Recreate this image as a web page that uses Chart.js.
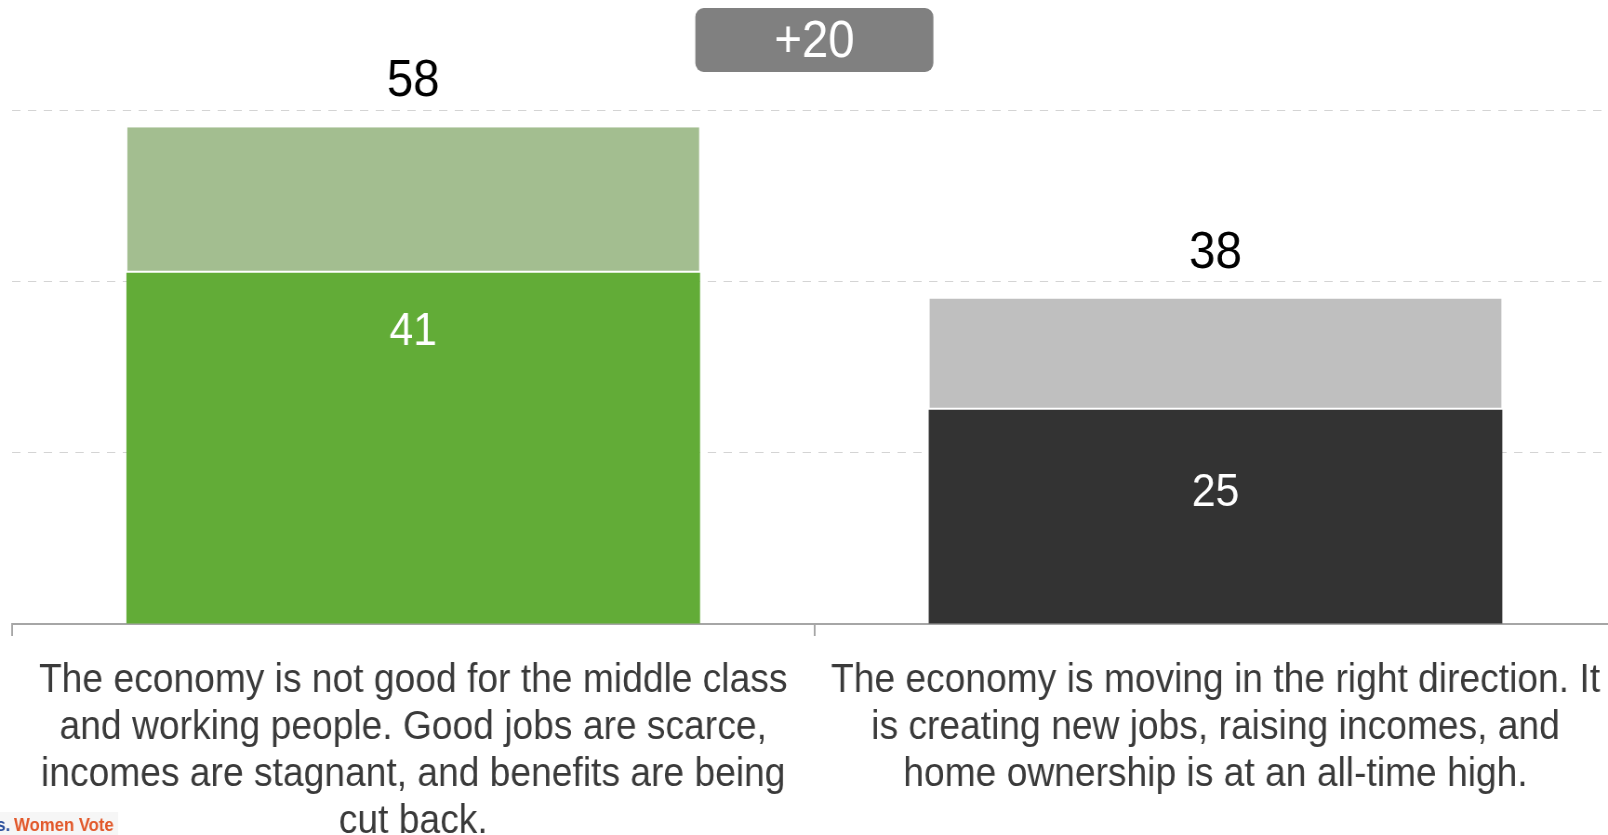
<!DOCTYPE html>
<html>
<head>
<meta charset="utf-8">
<script src="https://cdn.jsdelivr.net/npm/chart.js@4/dist/chart.umd.min.js"></script>
<style>
  html, body { margin: 0; padding: 0; background: #fff; overflow: hidden; }
  /* narrow type, like the deck this came from */
  #wrap { width: 1742px; height: 835px; transform: scaleX(0.93); transform-origin: 0 0; }
</style>
</head>
<body>
<div id="wrap"><canvas id="economy_chart" width="1742" height="835"></canvas></div>
<script>
const categories = [
    ['The economy is not good for the middle class', 'and working people. Good jobs are scarce,', 'incomes are stagnant, and benefits are being', 'cut back.'],
    ['The economy is moving in the right direction. It', 'is creating new jobs, raising incomes, and', 'home ownership is at an all-time high.']
];
const strongValues = [41, 25];
const otherValues = [17, 13];
const yTicks = { min: 0, max: 60, step: 20 };

const FONT = '"Liberation Sans", Arial, Helvetica, sans-serif';

// totals above each bar, strong share inside, and the gap badge on top
const labelPlugin = {
    id: 'labels',
    afterDatasetsDraw(chart, args, opts) {
        const ctx = chart.ctx;
        const y = chart.scales.y;
        const meta = chart.getDatasetMeta(0);
        const totals = strongValues.map((v, i) => v + otherValues[i]);

        ctx.save();
        ctx.textAlign = 'center';
        ctx.textBaseline = 'middle';
        meta.data.forEach((bar, i) => {
            ctx.font = '51px ' + FONT;
            ctx.fillStyle = '#000';
            ctx.fillText(String(totals[i]), bar.x, y.getPixelForValue(totals[i]) - 45);
            ctx.font = '46px ' + FONT;
            ctx.fillStyle = '#fff';
            ctx.fillText(String(strongValues[i]), bar.x, y.getPixelForValue(strongValues[i]) + opts.innerOffsets[i]);
        });

        // gap badge
        const cx = (meta.data[0].x + meta.data[1].x) / 2;
        const w = 256, h = 64, top = 8;
        ctx.fillStyle = '#808080';
        ctx.beginPath();
        ctx.roundRect(cx - w / 2, top, w, h, 9);
        ctx.fill();
        ctx.fillStyle = '#fff';
        ctx.font = '51px ' + FONT;
        const gap = totals[0] - totals[1];
        ctx.fillText((gap > 0 ? '+' : '') + gap, cx, top + h / 2 + 3);

        // footer logo
        ctx.fillStyle = '#f6f6f6';
        ctx.fillRect(0, 812, 127, 23);
        ctx.textAlign = 'left';
        ctx.font = 'bold 18px ' + FONT;
        ctx.fillStyle = '#2b4f9c';
        ctx.fillText('s.', -4, 826);
        ctx.fillStyle = '#e2582a';
        ctx.fillText('Women Vote', 15, 826);
        ctx.restore();
    }
};

new Chart(document.getElementById('economy_chart').getContext('2d'), {
    type: 'bar',
    data: {
        labels: categories,
        datasets: [{
            label: 'Strongly',
            data: strongValues,
            backgroundColor: ['#62ac37', '#333333'],
            borderWidth: 0,
            barPercentage: 0.715,
            categoryPercentage: 1
        }, {
            label: 'Total',
            data: otherValues,
            backgroundColor: ['#a3be90', '#bfbfbf'],
            borderColor: '#ffffff',
            borderWidth: { top: 0, left: 1, right: 1, bottom: 2 },
            borderSkipped: false,
            barPercentage: 0.715,
            categoryPercentage: 1
        }]
    },
    options: {
        responsive: false,
        animation: false,
        layout: { padding: { left: 13, right: 2, top: 110, bottom: 0 } },
        scales: {
            x: {
                stacked: true,
                afterFit: (scale) => { scale.height = 211; },
                border: { display: true, color: '#a6a6a6', width: 2 },
                grid: { display: true, drawOnChartArea: false, drawTicks: true, tickLength: 12, color: '#a6a6a6', lineWidth: 2 },
                ticks: {
                    color: '#3a3a3a',
                    padding: 21,
                    maxRotation: 0,
                    minRotation: 0,
                    autoSkip: false,
                    font: { family: FONT, size: 40, lineHeight: 1.175 }
                }
            },
            y: {
                stacked: true,
                min: yTicks.min,
                max: yTicks.max,
                border: { display: false, dash: [9, 8] },
                grid: {
                    drawTicks: false,
                    lineWidth: 1,
                    color: (c) => c.tick && c.tick.value === 0 ? 'rgba(0,0,0,0)' : '#d4d4d4'
                },
                ticks: { display: false, stepSize: yTicks.step }
            }
        },
        plugins: {
            legend: { display: false },
            tooltip: { enabled: false },
            labels: { innerOffsets: [60, 83] }
        }
    },
    plugins: [labelPlugin]
});
</script>
</body>
</html>
